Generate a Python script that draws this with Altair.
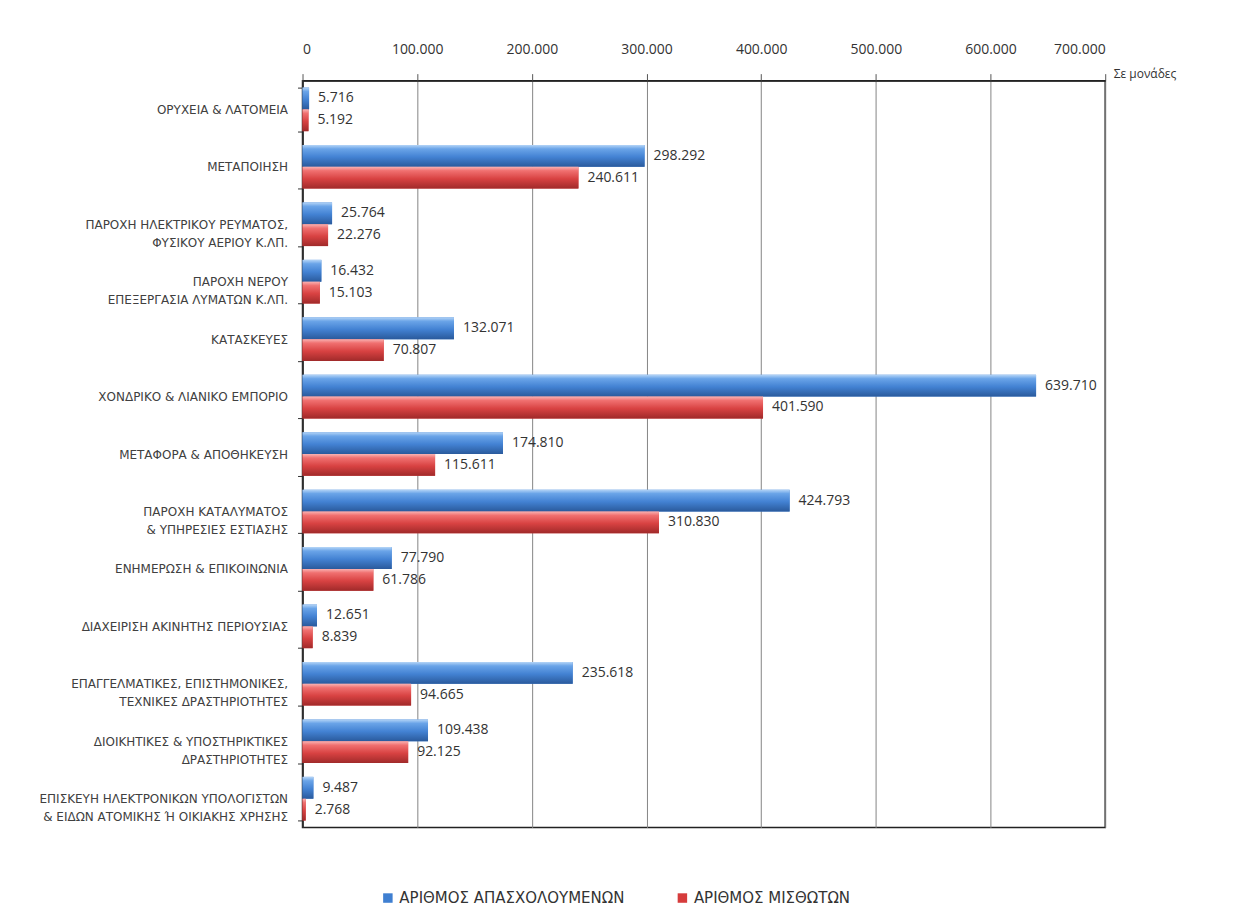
import altair as alt
import pandas as pd

categories = [
    "ΟΡΥΧΕΙΑ & ΛΑΤΟΜΕΙΑ",
    "ΜΕΤΑΠΟΙΗΣΗ",
    "ΠΑΡΟΧΗ ΗΛΕΚΤΡΙΚΟΥ  ΡΕΥΜΑΤΟΣ,|ΦΥΣΙΚΟΥ  ΑΕΡΙΟΥ  Κ.ΛΠ.",
    "ΠΑΡΟΧΗ ΝΕΡΟΥ|ΕΠΕΞΕΡΓΑΣΙΑ  ΛΥΜΑΤΩΝ  Κ.ΛΠ.",
    "ΚΑΤΑΣΚΕΥΕΣ",
    "ΧΟΝΔΡΙΚΟ & ΛΙΑΝΙΚΟ ΕΜΠΟΡΙΟ",
    "ΜΕΤΑΦΟΡΑ  & ΑΠΟΘΗΚΕΥΣΗ",
    "ΠΑΡΟΧΗ ΚΑΤΑΛΥΜΑΤΟΣ|& ΥΠΗΡΕΣΙΕΣ  ΕΣΤΙΑΣΗΣ",
    "ΕΝΗΜΕΡΩΣΗ  & ΕΠΙΚΟΙΝΩΝΙΑ",
    "ΔΙΑΧΕΙΡΙΣΗ ΑΚΙΝΗΤΗΣ ΠΕΡΙΟΥΣΙΑΣ",
    "ΕΠΑΓΓΕΛΜΑΤΙΚΕΣ,  ΕΠΙΣΤΗΜΟΝΙΚΕΣ,|ΤΕΧΝΙΚΕΣ ΔΡΑΣΤΗΡΙΟΤΗΤΕΣ",
    "ΔΙΟΙΚΗΤΙΚΕΣ & ΥΠΟΣΤΗΡΙΚΤΙΚΕΣ|ΔΡΑΣΤΗΡΙΟΤΗΤΕΣ",
    "ΕΠΙΣΚΕΥΗ ΗΛΕΚΤΡΟΝΙΚΩΝ  ΥΠΟΛΟΓΙΣΤΩΝ|& ΕΙΔΩΝ ΑΤΟΜΙΚΗΣ  Ή ΟΙΚΙΑΚΗΣ ΧΡΗΣΗΣ",
]

employed = [5716, 298292, 25764, 16432, 132071, 639710, 174810, 424793,
            77790, 12651, 235618, 109438, 9487]
salaried = [5192, 240611, 22276, 15103, 70807, 401590, 115611, 310830,
            61786, 8839, 94665, 92125, 2768]

series_names = ["ΑΡΙΘΜΟΣ ΑΠΑΣΧΟΛΟΥΜΕΝΩΝ", "ΑΡΙΘΜΟΣ ΜΙΣΘΩΤΩΝ"]
series_colors = ["#3f7fd1", "#d63c3c"]
x_ticks = [0, 100000, 200000, 300000, 400000, 500000, 600000, 700000]

rows = []
for c, e, s in zip(categories, employed, salaried):
    rows.append({"cat": c, "series": series_names[0], "value": e,
                 "label": f"{e:,}".replace(",", ".")})
    rows.append({"cat": c, "series": series_names[1], "value": s,
                 "label": f"{s:,}".replace(",", ".")})
df = pd.DataFrame(rows)

FONT = "Open Sans"
CAT_FONT = "DejaVu Sans"

x_enc = alt.X(
    "value:Q",
    scale=alt.Scale(domain=[0, 700000], nice=False),
    axis=alt.Axis(
        orient="top", values=x_ticks, title="Σε μονάδες",
        labelExpr="replace(format(datum.value, ','), ',', '.')",
        labelFont=FONT, labelFontSize=14, labelColor="#333333", labelPadding=17,
        tickColor="#555555", tickSize=7, domainColor="#222222", domainWidth=1.5,
        grid=True, gridColor="#858585", gridWidth=1,
        titleX=812, titleY=-7, titleAlign="left", titleBaseline="middle",
        titleFont=FONT, titleFontSize=12, titleFontWeight="normal",
        titleColor="#333333", titleAngle=0,
    ),
)
y_enc = alt.Y(
    "cat:N", sort=categories,
    scale=alt.Scale(paddingInner=0.24, paddingOuter=0.12),
    axis=alt.Axis(
        title=None, labelExpr="split(datum.label, '|')",
        labelFont=CAT_FONT, labelFontSize=12, labelColor="#404040",
        labelLineHeight=18, labelPadding=10, labelLimit=300,
        tickBand="extent", tickColor="#333333", tickSize=5,
        domainColor="#222222", domainWidth=1.5, grid=False,
    ),
)
yoff = alt.YOffset("series:N", sort=series_names,
                   scale=alt.Scale(paddingInner=0, paddingOuter=0))

base = alt.Chart(df)

legend_bars = base.mark_bar().encode(
    x=x_enc, y=y_enc, yOffset=yoff,
    color=alt.Color(
        "series:N", sort=series_names,
        scale=alt.Scale(domain=series_names, range=series_colors),
        legend=alt.Legend(
            title=None, orient="none", legendX=78, legendY=811,
            direction="horizontal", symbolType="square", symbolSize=90,
            symbolStrokeWidth=0, labelFont=CAT_FONT, labelFontSize=15,
            labelColor="#333333", columnPadding=50, labelOffset=4,
            labelLimit=400,
        ),
    ),
)

blue_grad = alt.Gradient(
    gradient="linear", x1=0, y1=0, x2=0, y2=1,
    stops=[
        alt.GradientStop(offset=0, color="#b5d5f7"),
        alt.GradientStop(offset=0.18, color="#6aa4e8"),
        alt.GradientStop(offset=0.55, color="#4382d3"),
        alt.GradientStop(offset=1, color="#2a5a9c"),
    ],
)
red_grad = alt.Gradient(
    gradient="linear", x1=0, y1=0, x2=0, y2=1,
    stops=[
        alt.GradientStop(offset=0, color="#f9b3b3"),
        alt.GradientStop(offset=0.18, color="#f07070"),
        alt.GradientStop(offset=0.55, color="#d84242"),
        alt.GradientStop(offset=1, color="#a02a2a"),
    ],
)

blue_bars = base.transform_filter(
    alt.datum.series == series_names[0]
).mark_bar(fill=blue_grad).encode(x=x_enc, y=y_enc, yOffset=yoff)

red_bars = base.transform_filter(
    alt.datum.series == series_names[1]
).mark_bar(fill=red_grad).encode(x=x_enc, y=y_enc, yOffset=yoff)

labels = base.mark_text(
    align="left", baseline="middle", dx=9, font=FONT, fontSize=14,
    color="#333333",
).encode(x=x_enc, y=y_enc, yOffset=yoff, text="label:N")

chart = alt.layer(legend_bars, blue_bars, red_bars, labels).properties(
    width=804, height=748,
    autosize=alt.AutoSizeParams(type="none"),
    padding={"left": 295, "top": 72, "right": 126, "bottom": 92},
    background="white",
).configure_view(stroke="#222222", strokeWidth=1.5)

chart.save("out.html", embed_options={"renderer": "svg", "actions": False})
